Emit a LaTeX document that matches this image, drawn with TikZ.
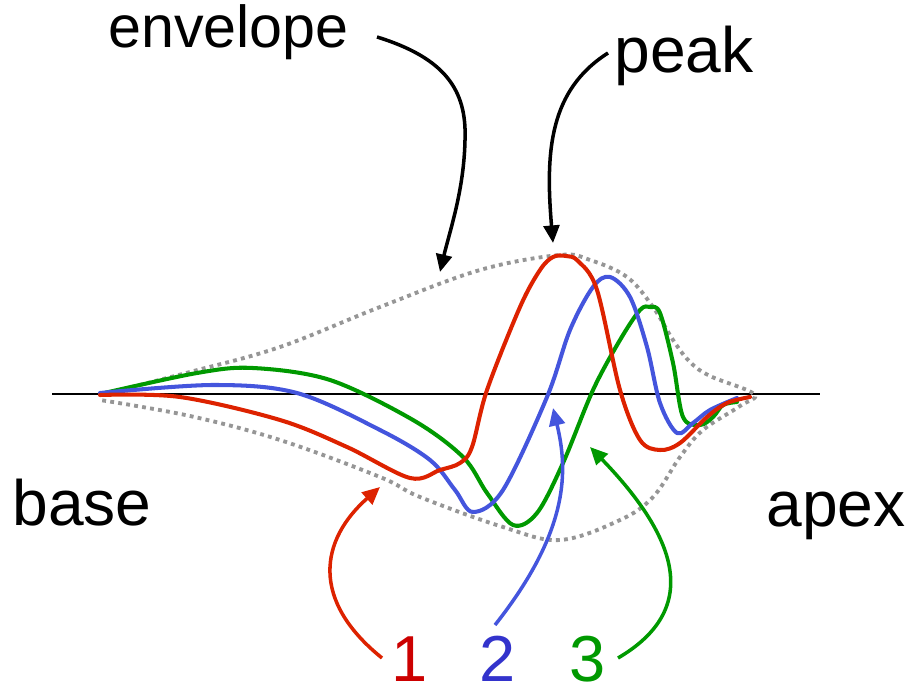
\documentclass[tikz,border=0pt]{standalone}
\usepackage{fontspec}
\setmainfont{Liberation Sans}
\usetikzlibrary{arrows.meta}
\definecolor{cred}{RGB}{221,34,0}
\definecolor{cblue}{RGB}{68,85,221}
\definecolor{cgreen}{RGB}{0,153,0}
\definecolor{lred}{RGB}{204,0,0}
\definecolor{lblue}{RGB}{51,51,204}
\definecolor{lgreen}{RGB}{0,153,0}
\definecolor{envgray}{RGB}{150,150,150}
\tikzset{
  wave/.style={line width=2.3pt, line join=round, line cap=round},
  envline/.style={envgray, line width=2.2pt, dash pattern=on 2.2pt off 2.4pt},
  pointer/.style={line width=2pt, -{Triangle[length=10pt,width=9pt]}},
  lbl/.style={inner sep=0pt, font=\fontsize{36.5}{40}\selectfont},
  envlbl/.style={inner sep=0pt, font=\fontsize{33.7}{40}\selectfont},
  numlbl/.style={inner sep=0pt, font=\fontsize{37}{42}\selectfont}
}
\begin{document}
\begin{tikzpicture}[x=0.02cm, y=-0.02cm]
\useasboundingbox (0,0) rectangle (911,685);

% axis
\coordinate (axL) at (52,394);
\coordinate (axR) at (820,394);
\draw[line width=1.2pt] (axL) -- (axR);

% envelope
\draw[envline] plot[smooth, tension=0.6] coordinates {
  (100,395) (190,372) (280,347) (380,307) (480,270) (560,255) (590,260)
  (627,277) (653,307) (673,340) (690,362) (710,376) (754,394)
  (740,406) (703,430) (680,457) (653,497) (620,520) (560,540) (503,527)
  (420,497) (380,477) (280,440) (190,416) (100,400)};

% curves
\draw[wave, cgreen] plot[smooth, tension=0.55] coordinates {
  (100,394) (197,373) (253,368) (330,380) (413,420) (463,457) (487,493)
  (513,525) (537,513) (563,463) (593,390) (620,340) (640,310) (650,307) (660,313)
  (673,363) (683,417) (700,425) (713,417) (723,405) (737,402)};
\draw[wave, cblue] plot[smooth, tension=0.55] coordinates {
  (100,393) (213,385) (297,393) (380,430) (430,460) (455,490) (473,512)
  (503,490) (547,397) (570,330) (593,287) (610,277) (630,297) (647,347)
  (660,403) (677,433) (693,423) (710,410) (737,398)};
\draw[wave, cred] plot[smooth, tension=0.55] coordinates {
  (100,395) (180,397) (280,420) (347,447) (410,478) (440,470) (460,463)
  (472,447) (487,390) (520,307) (540,270) (553,257) (566,256) (578,261)
  (597,290) (620,390) (640,440) (660,450) (680,443) (707,417) (727,403) (750,397)};

% labels
\node[envlbl, anchor=base west] (envelope) at (108,48) {envelope};
\node[lbl, anchor=base west] (peak) at (614,73) {peak};
\node[lbl, anchor=base west] (base) at (12,525) {base};
\node[lbl, anchor=base west] (apex) at (766,526) {apex};
\node[numlbl, anchor=base, lred] (n1) at (410,681) {1};
\node[numlbl, anchor=base, lblue] (n2) at (498,681) {2};
\node[numlbl, anchor=base, lgreen] (n3) at (588,681) {3};

% pointer ends
\coordinate (e0) at (377,37);
\coordinate (e1) at (465,140);
\coordinate (e2) at (440,272);
\coordinate (p0) at (608,53);
\coordinate (p1) at (553,243);
\coordinate (r0) at (382,658);
\coordinate (r1) at (380,487);
\coordinate (b0) at (495,625);
\coordinate (b1) at (553,408);
\coordinate (g0) at (618,658);
\coordinate (g1) at (590,447);

\draw[pointer] (e0) .. controls (445,58) and (467,90) .. (e1)
  .. controls (464,190) and (450,230) .. (e2);
\draw[pointer] (p0) .. controls (550,90) and (545,150) .. (p1);
\draw[pointer, cred] (r0) .. controls (310,600) and (320,540) .. (r1);
\draw[pointer, cblue] (b0) .. controls (570,530) and (568,470) .. (b1);
\draw[pointer, cgreen] (g0) .. controls (700,610) and (680,540) .. (g1);
\end{tikzpicture}
\end{document}
